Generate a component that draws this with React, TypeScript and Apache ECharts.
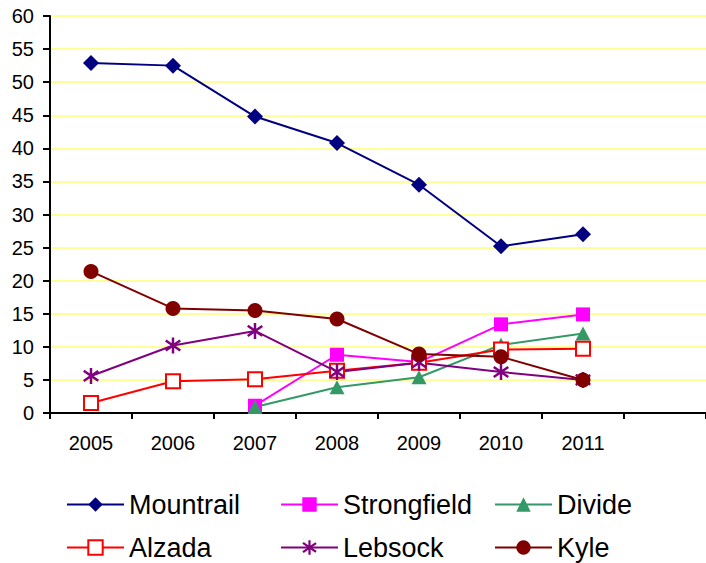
import React, { useEffect, useRef } from "react";
import * as echarts from "echarts";

const categories = ["2005", "2006", "2007", "2008", "2009", "2010", "2011", ""];
const yTicks = { min: 0, max: 60, interval: 5 };

const mountrail = [52.9, 52.5, 44.8, 40.8, 34.5, 25.2, 27.0];
const strongfield: (number | string)[] = ["-", "-", 1.1, 8.8, 7.7, 13.4, 14.9];
const divide: (number | string)[] = ["-", "-", 0.9, 3.9, 5.4, 10.3, 12.0];
const alzada = [1.5, 4.8, 5.1, 6.4, 7.6, 9.6, 9.7];
const lebsock = [5.6, 10.2, 12.4, 6.2, 7.6, 6.2, 5.0];
const kyle = [21.4, 15.8, 15.5, 14.2, 8.9, 8.5, 5.0];

const ASTERISK =
  "path://M6.8 0H9.2V16H6.8Z M1.7 1.9L15.7 11.9L14.3 13.9L0.3 3.9Z M0.3 12.1L14.3 2.1L15.7 4.1L1.7 14.1Z";

const FONT = "'Liberation Sans', Arial, sans-serif";

const seriesDefs = [
  { name: "Mountrail", data: mountrail, color: "#000080", symbol: "diamond", size: [16, 16] },
  { name: "Strongfield", data: strongfield, color: "#FF00FF", symbol: "rect", size: [14, 14] },
  { name: "Divide", data: divide, color: "#339966", symbol: "triangle", size: [15, 14] },
  { name: "Alzada", data: alzada, color: "#FF0000", symbol: "emptyRect", size: [14, 14] },
  { name: "Lebsock", data: lebsock, color: "#800080", symbol: ASTERISK, size: [16, 16] },
  { name: "Kyle", data: kyle, color: "#800000", symbol: "circle", size: [15, 15] },
];

const legendPos = [
  { left: 66, top: 491 },
  { left: 280, top: 491 },
  { left: 494, top: 491 },
  { left: 66, top: 534 },
  { left: 280, top: 534 },
  { left: 494, top: 534 },
];

export default function App() {
  const ref = useRef<HTMLDivElement>(null);
  useEffect(() => {
    if (!ref.current) return;
    const chart = echarts.init(ref.current, null, { renderer: "svg" });
    chart.setOption({
      animation: false,
      backgroundColor: "#ffffff",
      grid: { left: 50, top: 16, bottom: 150, right: -5, containLabel: false },
      xAxis: {
        type: "category",
        data: categories,
        boundaryGap: true,
        axisLine: { lineStyle: { color: "#000", width: 2 } },
        axisTick: { show: true, length: 6, lineStyle: { color: "#000", width: 2 } },
        axisLabel: { color: "#000", fontSize: 20, fontFamily: FONT, margin: 20 },
        splitLine: { show: false },
      },
      yAxis: {
        type: "value",
        min: yTicks.min,
        max: yTicks.max,
        interval: yTicks.interval,
        axisLine: { show: true, lineStyle: { color: "#000", width: 2 } },
        axisTick: { show: true, length: 7, lineStyle: { color: "#000", width: 2 } },
        axisLabel: { color: "#000", fontSize: 20, fontFamily: FONT, margin: 16 },
        splitLine: { show: true, lineStyle: { color: "#FFFF99", width: 2 } },
      },
      legend: seriesDefs.map((s, i) => ({
        data: [s.name],
        left: legendPos[i].left,
        top: legendPos[i].top,
        padding: 0,
        itemWidth: 57,
        itemHeight: 18,
        selectedMode: false,
        textStyle: { color: "#000", fontSize: 27, fontFamily: FONT },
      })),
      series: seriesDefs.map((s) => ({
        name: s.name,
        type: "line",
        data: s.data,
        symbol: s.symbol,
        symbolSize: s.size,
        showAllSymbol: true,
        connectNulls: false,
        lineStyle: { color: s.color, width: 2 },
        itemStyle: {
          color: s.color,
          borderColor: s.color,
          borderWidth: s.symbol === "emptyRect" ? 2.5 : 0,
        },
        emphasis: { disabled: true },
      })),
    });
    return () => chart.dispose();
  }, []);
  return <div ref={ref} style={{ width: 706, height: 563, position: "absolute", left: 0, top: 0 }} />;
}
